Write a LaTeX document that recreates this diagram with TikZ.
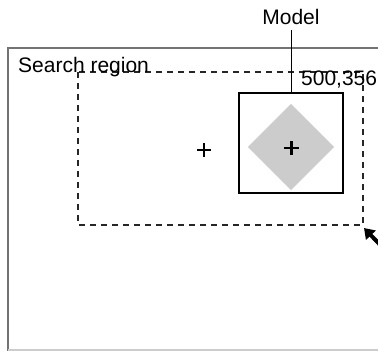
\documentclass[tikz,border=0pt]{standalone}
\usepackage{fontspec}
\setmainfont{Liberation Sans}
\usetikzlibrary{arrows.meta}
\begin{document}
\begin{tikzpicture}[x=1pt,y=-1pt,
  lbl/.style={inner sep=0pt,font=\fontsize{21}{23}\selectfont},
  frameline/.style={draw=black!55,line width=1.5pt},
  dashbox/.style={draw=black!85,line width=1.2pt,dash pattern=on 6pt off 5pt},
  modelbox/.style={draw=black,line width=1.2pt},
  plus/.style={draw=black,line width=2.2pt}]
\useasboundingbox (0,0) rectangle (378,351);
% outer frame
\draw[frameline] (379,48) -- (8,48) -- (8,351);
\draw[draw=black!20,line width=1.2pt] (8,350) -- (379,350);
% search region
\draw[dashbox] (78,72) rectangle (363,225);
% model box
\node[modelbox,minimum width=104pt,minimum height=100pt,inner sep=0pt] (mbox) at (291,143) {};
\node[fill=black!20,shape=rectangle,rotate=45,inner sep=0pt,minimum width=61pt,minimum height=61pt] (dia) at (291,147) {};
% plus signs
\draw[plus] (284,148) -- (299,148) (291.5,141) -- (291.5,155);
\draw[plus] (197,150) -- (211,150) (204,143) -- (204,157);
% labels
\node[lbl,anchor=south] (model) at (291,25) {Model};
\draw[black,line width=1pt] (mbox.north) -- (291,30) coordinate (lead);
\node[lbl,anchor=base west] (search) at (18,72) {Search region};
\node[lbl,anchor=base west] (coord) at (301,85.5) {500,356};
% cursor
\coordinate (ctail) at (386,251);
\draw[line width=4pt,-{Triangle[length=10pt,width=13pt]}] (ctail) -- (364,228);
\end{tikzpicture}
\end{document}
